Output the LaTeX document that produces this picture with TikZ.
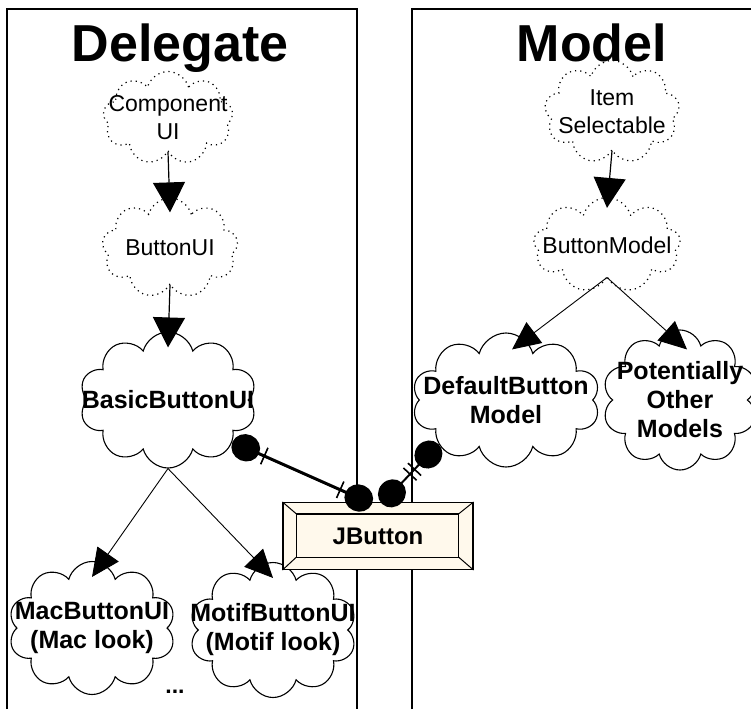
\documentclass[tikz,border=0pt]{standalone}
\usepackage{fontspec}
\setmainfont{Liberation Sans}
\usepackage{xcolor}
\usetikzlibrary{arrows.meta,positioning,calc,shapes.symbols}
\definecolor{btnfill}{HTML}{FFF9EC}

\begin{document}
\begin{tikzpicture}[x=1pt,y=-1pt,
  every node/.style={font=\fontsize{23}{28}\selectfont},
  iface/.style={cloud,cloud puffs=9,cloud ignores aspect,draw,line width=1.2pt,
    dash pattern=on 1.2pt off 4pt,inner xsep=-30pt,inner ysep=-10pt,align=center},
  klass/.style={cloud,cloud puffs=10,cloud ignores aspect,draw,line width=1.1pt,
    inner xsep=-30pt,inner ysep=-10pt,align=center,font=\fontsize{25}{29}\selectfont\bfseries},
  title/.style={anchor=base,font=\fontsize{52}{52}\selectfont\bfseries},
  isa/.style={line width=1.2pt,-{Triangle[length=30pt,width=32pt]}},
  sub/.style={line width=0.9pt,-{Triangle[length=28pt,width=26pt]}},
  blob/.tip={Circle[length=29pt,width=27pt]},
  tick/.tip={Bar[width=18pt,line width=1.6pt,sep=5pt]},
  has/.style={line width=3pt,{blob[] tick[]}-{tick[] blob[]}},
  has2/.style={line width=2pt,{blob[] tick[] tick[]}-{blob[]}}]
  \useasboundingbox (0,0) rectangle (751,709);

  % the two panels, open at the bottom
  \draw[line width=1.6pt] (7,709) -- (7,9) -- (357,9) -- (357,709);
  \draw[line width=1.6pt] (412,709) -- (412,9) -- (751,9);
  \node[title] (deltitle) at (180,62) {Delegate};
  \node[title] (modtitle) at (592,62) {Model};

  % delegate side
  \node[iface,minimum width=130pt,minimum height=93pt] (compui) at (168,118) {Component\\UI};
  \node[iface,minimum width=136pt,minimum height=100pt] (btnui) at (170,248) {ButtonUI};
  \node[klass,minimum width=177pt,minimum height=136pt] (basicui) at (168,400) {BasicButtonUI};
  \node[klass,minimum width=167pt,minimum height=133pt] (macui) at (92,628) {MacButtonUI\\(Mac look)};
  \node[klass,minimum width=167pt,minimum height=135pt] (motifui) at (273,630) {MotifButtonUI\\(Motif look)};
  \node[font=\fontsize{23}{28}\selectfont\bfseries] (moreui) at (175,692) {...};

  % model side
  \node[iface,minimum width=135pt,minimum height=103pt] (itemsel) at (612,112) {Item\\Selectable};
  \node[iface,minimum width=147pt,minimum height=95pt] (btnmodel) at (607,245) {ButtonModel};
  \node[klass,minimum width=188pt,minimum height=134pt] (defmodel) at (506,400) {DefaultButton\\Model};
  \node[klass,minimum width=155pt,minimum height=140pt] (othermodels) at (680,400) {Potentially\\Other\\Models};

  \draw[isa] (compui.south) -- ([yshift=-15pt]btnui.north);
  \draw[isa] (btnui.south) -- ([yshift=-16pt]basicui.north);
  \draw[isa] (itemsel.south) -- ([yshift=-11pt]btnmodel.north);
  \draw[sub] (basicui.south) -- ([yshift=-16pt]macui.north);
  \draw[sub] (basicui.south) -- ([yshift=-16pt]motifui.north);
  \draw[sub] (btnmodel.south) -- ([xshift=6pt,yshift=-17pt]defmodel.north);
  \draw[sub] (btnmodel.south) -- ([xshift=7pt,yshift=-20pt]othermodels.north);

  % the button itself, with bevelled frame
  \node[draw,fill=btnfill,line width=1.2pt,minimum width=190pt,minimum height=67pt,
    font=\fontsize{24}{24}\selectfont\bfseries] (jbutton) at (378,536) {JButton};
  \draw[line width=1.2pt] ($(jbutton.north west)+(14,12)$) rectangle ($(jbutton.south east)+(-15,-13)$);
  \foreach \c/\dx/\dy in {north west/14/12,north east/-15/12,south west/14/-13,south east/-15/-13}
    \draw[line width=1pt] (jbutton.\c) -- ++(\dx,\dy);

  \draw[has] (basicui.-33) -- ([xshift=-6pt,yshift=-2pt]jbutton.north);
  \draw[has2] (defmodel.213) -- ([xshift=4pt,yshift=-2pt]jbutton.north);
\end{tikzpicture}
\end{document}
